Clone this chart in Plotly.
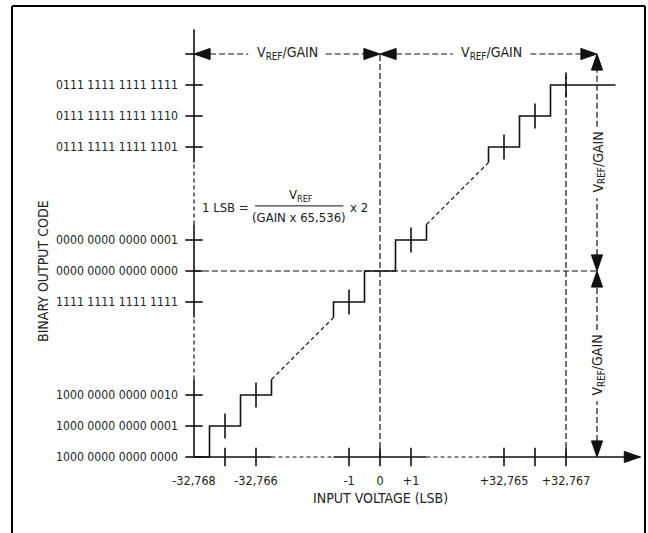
import plotly.graph_objects as go

# ---- data -------------------------------------------------------------
# schematic (broken-scale) position of every labelled step: three steps at the
# bottom, three around zero, three at the top
step_pos = [0, 1, 2, 5, 6, 7, 10, 11, 12]
input_lsb = [-32768, -32767, -32766, -1, 0, 1, 32765, 32766, 32767]
output_codes = [
    "1000 0000 0000 0000",
    "1000 0000 0000 0001",
    "1000 0000 0000 0010",
    "1111 1111 1111 1111",
    "0000 0000 0000 0000",
    "0000 0000 0000 0001",
    "0111 1111 1111 1101",
    "0111 1111 1111 1110",
    "0111 1111 1111 1111",
]
labelled_lsb = [-32768, -32766, -1, 0, 1, 32765, 32767]
labelled_text = ["-32,768", "-32,766", "-1", "0", "+1", "+32,765", "+32,767"]
step_groups = [[0, 1, 2], [5, 6, 7], [10, 11, 12]]   # solid parts of the staircase
last_tread_end = 13.6
dim_row = 13        # level of the horizontal VREF/GAIN dimensions
dim_col = 13        # column of the vertical VREF/GAIN dimensions
dim_h_spans = [(0, 6), (6, 13)]
dim_v_spans = [(6, 13), (0, 6)]
x_axis_end = 14.4
y_axis_end = 13.8

# ---- geometry / style ---------------------------------------------------
W, H = 648, 533
PX = 31.0                  # pixels per step, both axes
X0, Y0 = 194, 457          # pixel position of the origin
FONT = "DejaVu Sans Condensed, Liberation Sans Narrow, sans-serif"
INK = "#111111"
TXT = "#222222"
SOLID = dict(color=INK, width=1.6)
DASH = dict(color=INK, width=1.2, dash="6px,3px")
DASH_S = dict(color=INK, width=1.2, dash="4px,3px")
AL, AW = 0.52, 0.18        # arrowhead length / half width (in steps)

fig = go.Figure()


def seg(xs, ys, line):
    fig.add_trace(go.Scatter(x=xs, y=ys, mode="lines", line=line,
                             hoverinfo="skip", showlegend=False))


def arrowheads(tips):
    xs, ys = [], []
    for tx, ty, dx, dy in tips:
        bx, by = tx - AL * dx, ty - AL * dy
        xs += [tx, bx - AW * dy, bx + AW * dy, tx, None]
        ys += [ty, by + AW * dx, by - AW * dx, ty, None]
    fig.add_trace(go.Scatter(x=xs, y=ys, mode="lines", fill="toself",
                             fillcolor=INK, line=dict(color=INK, width=1),
                             hoverinfo="skip", showlegend=False))


# gaps in the scale (dashed parts of axes and transfer line)
gaps = [(step_groups[i][-1] + 0.5, step_groups[i + 1][0] - 0.5)
        for i in range(len(step_groups) - 1)]

# ---- axes drawn as lines ---------------------------------------------------
edges = [0] + [v for g in gaps for v in g] + [None]
for i in range(0, len(edges) - 1, 2):
    a, b = edges[i], edges[i + 1]
    seg([a, b if b is not None else x_axis_end], [0, 0], SOLID)
    seg([0, 0], [a, b if b is not None else y_axis_end], SOLID)
for a, b in gaps:
    seg([a, b], [0, 0], DASH_S)
    seg([0, 0], [a, b], DASH_S)
arrowheads([(x_axis_end, 0, 1, 0)])

# axis tick marks
tx, ty = [], []
for p in step_pos[1:]:
    tx += [p, p, None]
    ty += [-0.3, 0.3, None]
seg(tx, ty, SOLID)
tx, ty = [], []
for p in step_pos + [dim_row]:
    tx += [-0.28, 0.28, None]
    ty += [p, p, None]
seg(tx, ty, SOLID)

# ---- guide lines ------------------------------------------------------------
zero = step_pos[input_lsb.index(0)]
full = step_pos[input_lsb.index(32767)]
seg([zero, zero], [0, dim_row], DASH)
seg([full, full], [0, full + 0.3], DASH)
seg([0, dim_col], [zero, zero], DASH)

# ---- transfer function ----------------------------------------------------------
for gi, g in enumerate(step_groups):
    xs, ys = [], []
    p0 = g[0]
    xs += [max(p0 - 0.5, 0), max(p0 - 0.5, 0)]
    ys += [max(p0 - 0.5, 0), p0]
    for k, p in enumerate(g):
        end = p + 0.5 if (gi < len(step_groups) - 1 or k < len(g) - 1) else last_tread_end
        xs += [end]
        ys += [p]
        if k < len(g) - 1:
            xs += [end]
            ys += [g[k + 1]]
    if gi < len(step_groups) - 1:
        xs += [g[-1] + 0.5]
        ys += [g[-1] + 0.5]
    seg(xs, ys, SOLID)
for a, b in gaps:
    seg([a, b], [a, b], DASH_S)

# little centre marks on each tread
tx, ty = [], []
for p in step_pos:
    if p in (0, zero):
        continue
    tx += [p, p, None]
    ty += [p - 0.4, p + 0.4, None]
seg(tx, ty, SOLID)

# ---- VREF/GAIN dimensions -------------------------------------------------------
label = "V<sub>REF</sub>/GAIN"
tips = []
for a, b in dim_h_spans:
    c = (a + b) / 2 + (0.1 if a else 0)
    seg([a + AL, c - 1.25], [dim_row, dim_row], DASH)
    seg([c + 1.25, b - AL], [dim_row, dim_row], DASH)
    tips += [(a, dim_row, -1, 0), (b, dim_row, 1, 0)]
    fig.add_annotation(x=c, y=dim_row, text=label, showarrow=False,
                       font=dict(size=14, color=TXT), yshift=1)
for a, b in dim_v_spans:
    c = (a + b) / 2 - (0.05 if a == 0 else 0)
    seg([dim_col, dim_col], [a + AL, c - 1.15], DASH)
    seg([dim_col, dim_col], [c + 1.15, b - AL], DASH)
    tips += [(dim_col, a, 0, -1), (dim_col, b, 0, 1)]
    fig.add_annotation(x=dim_col, y=c, text=label, showarrow=False,
                       textangle=-90, font=dict(size=14, color=TXT), xshift=1)
arrowheads(tips)

# ---- LSB formula -------------------------------------------------------------
fig.add_annotation(x=1.0, y=8.05, text="1 LSB =", showarrow=False,
                   font=dict(size=13, color=TXT))
fig.add_annotation(x=3.45, y=8.45, text="V<sub>REF</sub>", showarrow=False,
                   font=dict(size=13, color=TXT))
fig.add_annotation(x=3.4, y=7.72, text="(GAIN x 65,536)", showarrow=False,
                   font=dict(size=13, color=TXT))
fig.add_annotation(x=5.32, y=8.05, text="x 2", showarrow=False,
                   font=dict(size=13, color=TXT))
seg([1.97, 4.82], [8.1, 8.1], dict(color=INK, width=1))

# ---- titles ----------------------------------------------------------------
fig.add_annotation(xref="paper", yref="paper", x=33 / W, y=1 - 271 / H,
                   text="BINARY OUTPUT CODE", textangle=-90, showarrow=False,
                   font=dict(size=14, color=TXT))
fig.add_annotation(xref="paper", yref="paper", x=381 / W, y=1 - 508 / H,
                   text="INPUT VOLTAGE (LSB)", showarrow=False,
                   font=dict(size=14, color=TXT))

# outer frame (its bottom edge is below the picture)
frame = dict(color="black", width=2)
fig.add_shape(type="line", xref="paper", yref="paper", x0=12 / W, x1=12 / W,
              y0=0, y1=1 - 6 / H, line=frame)
fig.add_shape(type="line", xref="paper", yref="paper", x0=12 / W, x1=645 / W,
              y0=1 - 6 / H, y1=1 - 6 / H, line=frame)
fig.add_shape(type="line", xref="paper", yref="paper", x0=645 / W, x1=645 / W,
              y0=0, y1=1 - 6 / H, line=frame)

fig.update_xaxes(range=[-X0 / PX, (W - X0) / PX], anchor="free",
                 position=(H - Y0) / H, showgrid=False, zeroline=False,
                 showline=False, ticks="",
                 tickvals=[step_pos[input_lsb.index(v)] for v in labelled_lsb],
                 ticktext=labelled_text, ticklabelstandoff=14,
                 tickfont=dict(size=12.5, color=TXT))
fig.update_yaxes(range=[-(H - Y0) / PX, Y0 / PX], anchor="free",
                 position=X0 / W, showgrid=False, zeroline=False,
                 showline=False, ticks="", tickvals=step_pos,
                 ticktext=output_codes, ticklabelstandoff=16,
                 tickfont=dict(size=12.2, color=TXT))
fig.update_layout(width=W, height=H, margin=dict(l=0, r=0, t=0, b=0),
                  plot_bgcolor="white", paper_bgcolor="white",
                  showlegend=False, font=dict(family=FONT, size=14, color=TXT))

fig.write_html("out.html", config={"displayModeBar": False},
               post_script="document.body.style.margin='0';"
                           "document.body.style.overflow='hidden';")
